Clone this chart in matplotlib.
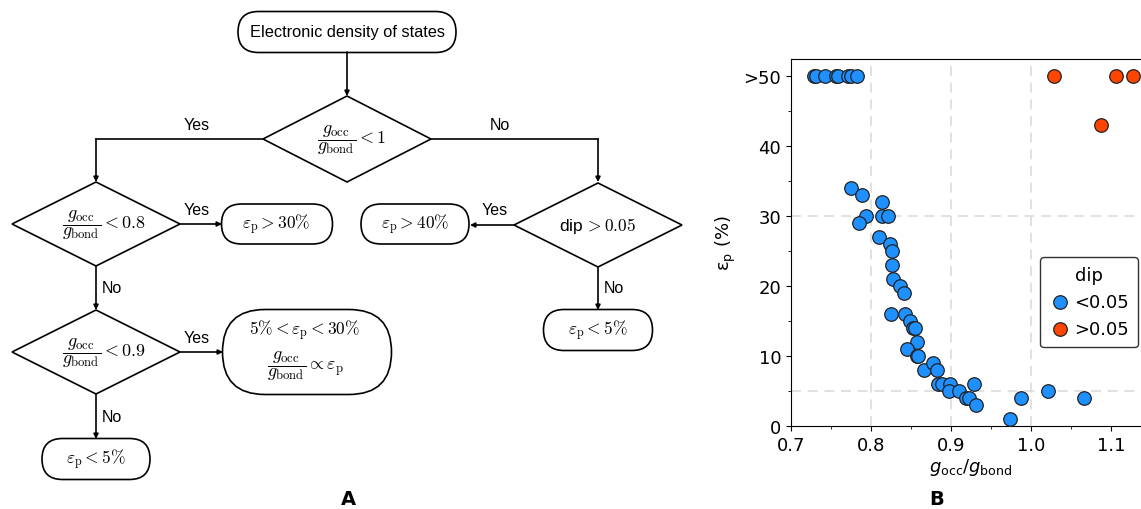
import matplotlib.pyplot as plt
from matplotlib.patches import FancyBboxPatch, Polygon

# scatter data: occupied/bonding DOS ratio vs. error (%), split by dip size
small_dip_x = [0.729, 0.731, 0.7425, 0.756, 0.759, 0.771, 0.775, 0.782,
               0.775, 0.789, 0.794, 0.785, 0.814, 0.814, 0.821, 0.810, 0.824,
               0.826, 0.826, 0.8275, 0.836, 0.841,
               0.825, 0.842, 0.849, 0.853, 0.855, 0.857, 0.845, 0.857, 0.859,
               0.866, 0.8775, 0.8825, 0.884, 0.889, 0.899, 0.8975, 0.91, 0.919,
               0.9225, 0.929, 0.931,
               0.974, 0.9875, 1.021, 1.066]
small_dip_y = [50, 50, 50, 50, 50, 50, 50, 50,
               34, 33, 30, 29, 32, 30, 30, 27, 26, 25, 23, 21, 20, 19,
               16, 16, 15, 14, 14, 12, 11, 10, 10,
               8, 9, 8, 6, 6, 6, 5, 5, 4, 4, 6, 3,
               1, 4, 5, 4]
large_dip_x = [1.029, 1.0875, 1.106, 1.1275]
large_dip_y = [50, 43, 50, 50]

dip_labels = ["<0.05", ">0.05"]
y_ticks = [0, 10, 20, 30, 40, 50]
y_ticklabels = ["0", "10", "20", "30", "40", ">50"]
x_ticks = [0.7, 0.8, 0.9, 1.0, 1.1]

W, H = 1141, 510
fig = plt.figure(figsize=(W / 100, H / 100), dpi=100)

# ---- flowchart (A), drawn in pixel coordinates ----
fc = fig.add_axes([0, 0, 1, 1])
fc.set_xlim(0, W)
fc.set_ylim(H, 0)
fc.axis("off")

LW = 1.2
SANS = "Liberation Sans"


def stadium(cx, cy, w, h, radius=None):
    r = h / 2 if radius is None else radius
    fc.add_patch(FancyBboxPatch((cx - w / 2, cy - h / 2), w, h,
                                boxstyle=f"round,pad=0,rounding_size={r}",
                                fc="white", ec="black", lw=LW))


def diamond(cx, cy, hw, hh):
    fc.add_patch(Polygon([(cx, cy - hh), (cx + hw, cy), (cx, cy + hh), (cx - hw, cy)],
                         closed=True, fc="white", ec="black", lw=LW))


def arrow(x0, y0, x1, y1):
    fc.annotate("", xy=(x1, y1), xytext=(x0, y0),
                arrowprops=dict(arrowstyle="-|>", color="black", lw=LW,
                                mutation_scale=7, shrinkA=0, shrinkB=0))


def sans(x, y, s, size=11.5):
    fc.text(x, y, s, ha="center", va="center", fontsize=size, family=SANS)


def math(x, y, s, size=13, ha="center"):
    fc.text(x, y, s, ha=ha, va="center", fontsize=size, math_fontfamily="cm")


frac = r"\dfrac{g_{\mathrm{occ}}}{g_{\mathrm{bond}}}"
eps = r"\varepsilon_{\mathrm{p}}"

# start node
stadium(347, 33, 218, 41)
sans(347, 33, "Electronic density of states", 11.8)
arrow(347, 53, 347, 97)

# first decision
diamond(347, 140, 84, 43)
math(352, 140, rf"${frac} < 1$")
fc.plot([263, 96], [140, 140], color="black", lw=LW)
arrow(96, 140, 96, 183)
sans(197, 126, "Yes")
fc.plot([431, 598], [140, 140], color="black", lw=LW)
arrow(598, 140, 598, 183)
sans(500, 126, "No")

# left branch
diamond(96, 225, 84, 42)
math(104, 225, rf"${frac} < 0.8$")
arrow(180, 225, 222, 225)
sans(197, 211, "Yes")
stadium(277, 225, 111, 40)
math(276, 225, rf"${eps} > 30\%$", 12.5)

arrow(96, 267, 96, 311)
sans(112, 289, "No")
diamond(96, 353, 84, 42)
math(104, 353, rf"${frac} < 0.9$")
arrow(180, 353, 223, 353)
sans(197, 339, "Yes")
stadium(307, 353, 169, 85)
math(305, 331, rf"$5\% < {eps} < 30\%$", 12.5)
math(305, 366, rf"${frac} \propto {eps}$")

arrow(96, 395, 96, 440)
sans(112, 418, "No")
stadium(96, 460, 108, 41)
math(96, 460, rf"${eps} < 5\%$", 12.5)

# right branch
diamond(598, 226, 84, 42)
fc.text(598, 226, r"dip$\,> 0.05$", ha="center", va="center", fontsize=12.5,
        family=SANS, math_fontfamily="cm")
arrow(514, 226, 470, 226)
sans(495, 211, "Yes")
stadium(415, 225, 108, 40)
math(415, 225, rf"${eps} > 40\%$", 12.5)
arrow(598, 268, 598, 311)
sans(614, 289, "No")
stadium(598, 331, 109, 41)
math(598, 331, rf"${eps} < 5\%$", 12.5)

fc.text(348, 500, "A", ha="center", va="center", fontsize=14, fontweight="bold")
fc.text(937, 500, "B", ha="center", va="center", fontsize=14, fontweight="bold")

# ---- scatter (B) ----
x0, x1 = 0.7, 1.15
left = 791 / W
bottom = (H - 427) / H
height = 367 / H
width = (x1 - x0) * 800 / W
ax = fig.add_axes([left, bottom, width, height])

for xv in [0.8, 0.9, 1.0]:
    ax.axvline(xv, color="#dcdcdc", ls=(0, (6, 4)), lw=1.2, zorder=0)
for yv in [5, 30]:
    ax.axhline(yv, color="#dcdcdc", ls=(0, (6, 4)), lw=1.2, zorder=0)

ax.scatter(small_dip_x, small_dip_y, s=95, c="#1E90FF", edgecolors="#222222",
           linewidths=0.9, label=dip_labels[0], zorder=3)
ax.scatter(large_dip_x, large_dip_y, s=95, c="#FF4500", edgecolors="#222222",
           linewidths=0.9, label=dip_labels[1], zorder=3)

ax.set_xlim(x0, x1)
ax.set_ylim(0, 52.4)
ax.set_xticks(x_ticks)
ax.set_xticks([0.75, 0.85, 0.95, 1.05, 1.15], minor=True)
ax.set_yticks(y_ticks)
ax.set_yticklabels(y_ticklabels)
ax.set_yticks([5, 15, 25, 35, 45], minor=True)
ax.tick_params(labelsize=13)
ax.spines["right"].set_visible(False)

ax.set_xlabel(r"$g_\mathrm{occ}/g_\mathrm{bond}$", fontsize=13, labelpad=2)
ax.set_ylabel("ε$_\\mathrm{p}$ (%)", fontsize=13)

leg = ax.legend(title="dip", fontsize=13, title_fontsize=13, loc="upper left",
                bbox_to_anchor=(1040 / W, 1 - 258 / H), bbox_transform=fig.transFigure,
                borderaxespad=0, handletextpad=0.2, handlelength=1.2, borderpad=0.5,
                framealpha=1, edgecolor="#333333")

fig.savefig("out.png", dpi=100)
